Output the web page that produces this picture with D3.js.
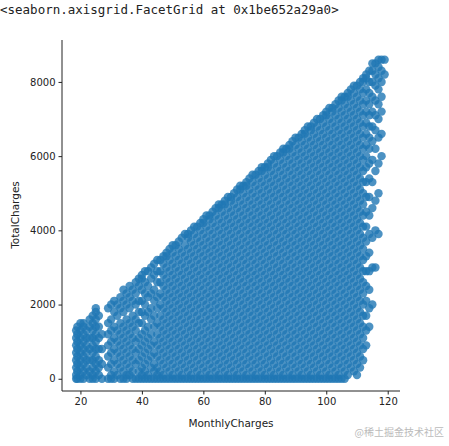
<!DOCTYPE html><html><head><meta charset="utf-8">
<script src="https://cdn.jsdelivr.net/npm/d3@7/dist/d3.min.js"></script>
<style>body{margin:0;background:#fff}</style></head><body>
<script>
// MonthlyCharges columns and TotalCharges per column (in hundreds)
const monthly=[18.6,19,20,21,22,23,24,25,26,27,29,30,31,32,33,34,35,36,37,38,39,40,41,42,43,44,45,46,47,48,49,50,51,52,53,54,55,56,57,58,59,60,61,62,63,64,65,66,67,68,69,70,71,72,73,74,75,76,77,78,79,80,81,82,83,84,85,86,87,88,89,90,91,92,93,94,95,96,97,98,99,100,101,102,103,104,105,106,107,108,109,110,111,112,113,114,115,116,117,118,119];
const totalsHundreds=[
"0 1 3 5 7 9 11 13","0 2 4 6 8 10 12 14","0 1 3 5 7 9 11 13 15","0 2 4 6 8 10 12 14 15","1 3 5 7 9 11 13","0 2 5 8 11 14 16",
"0 1 3 5 7 9 11 13 15 17","0 2 4 6 8 10 12 14 16 18 19","1 3 5 8 11 14 17","0 4 8 12","0 3 6 9 12 15 19","0 1 4 7 10 13 16 20",
"0 2 5 8 11 14 18 21","1 4 7 10 13 17 20","0 3 6 9 12 15 19 22","0 2 5 8 11 14 18 21 24","0 1 4 7 10 13 16 20 23","1 3 6 9 12 15 19 22 25",
"0 2 5 8 11 14 17 21 24","0 4 7 10 13 16 20 23 26","0 2 5 8 11 15 18 21 25 27","0 1 3 6 9 12 15 18 21 24 27 28","0 2 4 7 10 13 17 20 23 26 29","0 1 5 8 11 14 18 22 25 29",
"0 3 6 9 12 16 19 23 27 30","0 2 4 7 10 14 17 21 24 28 31","0 1 3 6 9 12 15 19 22 26 29 32","0 2 5 8 11 14 17 20 23 26 29 32","0 1 4 7 10 13 16 19 22 25 28 31 33","0 3 6 9 12 15 18 21 24 27 30 33 34",
"0 2 5 8 11 14 17 20 23 26 29 32 35","0 1 4 7 10 13 16 19 22 25 28 31 34 36","0 3 6 9 12 15 18 21 24 27 30 33 36","0 2 5 8 11 14 17 20 23 26 29 32 35 37","0 1 4 7 10 13 16 19 22 25 28 31 34 38","0 3 6 9 12 15 18 21 24 27 30 33 36 39",
"0 2 5 8 11 14 17 20 23 26 29 32 35 38 39","0 1 4 7 10 13 16 19 22 25 28 31 34 37 40","0 3 6 9 12 15 18 21 24 27 30 33 36 39 41","0 2 5 8 11 14 17 20 23 26 29 32 35 38 41","0 1 4 7 10 13 16 19 22 25 28 31 34 37 40 42","0 3 6 9 12 15 18 21 24 27 30 33 36 39 42 43",
"0 2 5 8 11 14 17 20 23 26 29 32 35 38 41 44","0 1 4 7 10 13 16 19 22 25 28 31 34 37 40 43 44","0 3 6 9 12 15 18 21 24 27 30 33 36 39 42 45","0 2 5 8 11 14 17 20 23 26 29 32 35 38 41 44 46","0 1 4 7 10 13 16 19 22 25 28 31 34 37 40 43 46 47","0 3 6 9 12 15 18 21 24 27 30 33 36 39 42 45 47",
"0 2 5 8 11 14 17 20 23 26 29 32 35 38 41 44 47 48","0 1 4 7 10 13 16 19 22 25 28 31 34 37 40 43 46 49","0 3 6 9 12 15 18 21 24 27 30 33 36 39 42 45 48 49","0 2 5 8 11 14 17 20 23 26 29 32 35 38 41 44 47 50","0 1 4 7 10 13 16 19 22 25 28 31 34 37 40 43 46 49 51","0 3 6 9 12 15 18 21 24 27 30 33 36 39 42 45 48 51 52",
"0 2 5 8 11 14 17 20 23 26 29 32 35 38 41 44 47 50 52","0 1 4 7 10 13 16 19 22 25 28 31 34 37 40 43 46 49 52 53","0 3 6 9 12 15 18 21 24 27 30 33 36 39 42 45 48 51 54","0 2 5 8 11 14 17 20 23 26 29 32 35 38 41 44 47 50 53 55","0 1 4 7 10 13 16 19 22 25 28 31 34 37 40 43 46 49 52 55","0 3 6 9 12 15 18 21 24 27 30 33 36 39 42 45 48 51 54 56",
"0 2 5 8 11 14 17 20 23 26 29 32 35 38 41 44 47 50 53 56 57","0 1 4 7 10 13 16 19 22 25 28 31 34 37 40 43 46 49 52 55 57","0 3 6 9 12 15 18 21 24 27 30 33 36 39 42 45 48 51 54 57 58","0 2 5 8 11 14 17 20 23 26 29 32 35 38 41 44 47 50 53 56 59","0 1 4 7 10 13 16 19 22 25 28 31 34 37 40 43 46 49 52 55 58 60","0 3 6 9 12 15 18 21 24 27 30 33 36 39 42 45 48 51 54 57 60",
"0 2 5 8 11 14 17 20 23 26 29 32 35 38 41 44 47 50 53 56 59 61","0 1 4 7 10 13 16 19 22 25 28 31 34 37 40 43 46 49 52 55 58 61 62","0 3 6 9 12 15 18 21 24 27 30 33 36 39 42 45 48 51 54 57 60 62","0 2 5 8 11 14 17 20 23 26 29 32 35 38 41 44 47 50 53 56 59 62 63","0 1 4 7 10 13 16 19 22 25 28 31 34 37 40 43 46 49 52 55 58 61 64","0 3 6 9 12 15 18 21 24 27 30 33 36 39 42 45 48 51 54 57 60 63 65",
"0 2 5 8 11 14 17 20 23 26 29 32 35 38 41 44 47 50 53 56 59 62 65","0 1 4 7 10 13 16 19 22 25 28 31 34 37 40 43 46 49 52 55 58 61 64 66","0 3 6 9 12 15 18 21 24 27 30 33 36 39 42 45 48 51 54 57 60 63 66 67","0 2 5 8 11 14 17 20 23 26 29 32 35 38 41 44 47 50 53 56 59 62 65 68","0 1 4 7 10 13 16 19 22 25 28 31 34 37 40 43 46 49 52 55 58 61 64 67 68","0 3 6 9 12 15 18 21 24 27 30 33 36 39 42 45 48 51 54 57 60 63 66 69",
"0 2 5 8 11 14 17 20 23 26 29 32 35 38 41 44 47 50 53 56 59 62 65 68 70","0 1 4 7 10 13 16 19 22 25 28 31 34 37 40 43 46 49 52 55 58 61 64 67 70","0 3 6 9 12 15 18 21 24 27 30 33 36 39 42 45 48 51 54 57 60 63 66 69 71","0 2 5 8 11 14 17 20 23 26 29 32 35 38 41 44 47 50 53 56 59 62 65 68 71 72","0 1 4 7 10 13 16 19 22 25 28 31 34 37 40 43 46 49 52 55 58 61 64 67 70 73","0 3 6 9 12 15 18 21 24 27 30 33 36 39 42 45 48 51 54 57 60 63 66 69 72 73",
"0 2 5 8 11 14 17 20 23 26 29 32 35 38 41 44 47 50 53 56 59 62 65 68 71 74","0 1 4 7 10 13 16 19 22 25 28 31 34 37 40 43 46 49 52 55 58 61 64 67 70 73 75","0 3 6 9 12 15 18 21 24 27 30 33 36 39 42 45 48 51 54 57 60 63 66 69 72 75 76","0 2 5 8 11 14 17 20 23 26 29 32 35 38 41 44 47 50 53 56 59 62 65 68 71 74 76","1 4 7 10 13 16 19 22 25 28 31 34 37 40 43 46 49 52 55 58 61 64 67 70 73 76 77","3 6 9 12 15 18 21 24 27 30 33 36 39 42 45 48 51 54 57 60 63 66 69 72 75 78",
"2 5 8 11 14 17 20 23 26 29 32 35 38 41 44 47 50 53 56 59 62 65 68 71 74 77 79","1 4 7 10 13 16 19 22 25 28 31 34 37 40 43 46 49 52 55 58 61 64 67 70 73 76 79","3 6 9 12 15 18 21 24 27 30 33 36 39 42 45 48 51 54 57 60 63 66 69 72 75 78 80","5 8 11 14 17 20 23 26 29 32 35 38 41 44 47 50 53 56 59 62 65 68 71 74 77 80 81","9 13 17 21 25 29 33 37 41 45 49 53 57 60 63 66 69 72 75 78 81 82","14 19 24 29 34 39 44 49 54 58 62 65 68 71 74 77 80 83",
"20 30 38 46 53 59 64 68 72 76 80 83 85","30 40 48 56 62 67 71 75 79 82 85","39 50 58 65 70 74 78 81 84 86","60 66 72 76 80 83 86","82 86"];
const xTicks=[20,40,60,80,100,120], yTicks=[0,2000,4000,6000,8000];
const W=449,H=446;
const svg=d3.select("body").append("svg").attr("width",W).attr("height",H);
svg.append("text").attr("x",0).attr("y",14).attr("font-family","DejaVu Sans Mono").attr("font-size",12.5).attr("fill","#222").text("<seaborn.axisgrid.FacetGrid at 0x1be652a29a0>");
const x=d3.scaleLinear().domain([14,124]).range([62,400]);
const y=d3.scaleLinear().domain([-330,9130]).range([391,40]);
const pts=[];monthly.forEach((m,i)=>totalsHundreds[i].split(" ").forEach(t=>pts.push([m,+t*100])));
svg.append("g").selectAll("circle").data(pts).join("circle").attr("cx",d=>x(d[0])).attr("cy",d=>y(d[1])).attr("r",4.2).attr("fill","#1f77b4").attr("fill-opacity",0.8);
const f="DejaVu Sans";
const gx=svg.append("g").attr("transform","translate(0,391)").call(d3.axisBottom(x).tickValues(xTicks).tickSize(3.5).tickPadding(3));
const gy=svg.append("g").attr("transform","translate(62,0)").call(d3.axisLeft(y).tickValues(yTicks).tickSize(3.5).tickPadding(3).tickFormat(d3.format("d")));
[gx,gy].forEach(g=>{g.selectAll("text").attr("font-family",f).attr("font-size",10).attr("fill","#222");g.selectAll("line,path").attr("stroke","#222");});
gx.select(".domain").attr("d","M62,0H400");gy.select(".domain").attr("d","M0,40V391");
svg.append("text").attr("x",231).attr("y",427).attr("text-anchor","middle").attr("font-family",f).attr("font-size",10.5).attr("fill","#222").text("MonthlyCharges");
svg.append("text").attr("transform","translate(19,215) rotate(-90)").attr("text-anchor","middle").attr("font-family",f).attr("font-size",10.5).attr("fill","#222").text("TotalCharges");
svg.append("text").attr("x",444).attr("y",436).attr("text-anchor","end").attr("font-family","Noto Sans CJK SC").attr("font-size",10).attr("fill","#bbb").text("@稀土掘金技术社区");
</script></body></html>
